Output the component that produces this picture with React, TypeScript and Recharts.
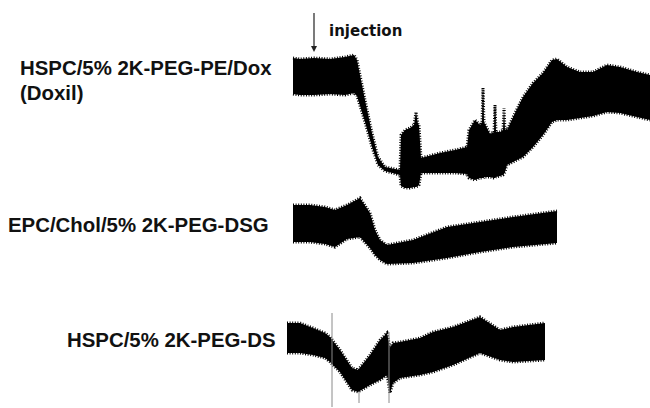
import { ComposedChart, Area, XAxis, YAxis, ReferenceLine } from 'recharts'

// time axis in minutes, pressures in mmHg (read from the tracings)
const doxilTime = [1.3, 2, 3.4, 5, 6.5, 7.4, 7.7, 8.5, 9.2, 9.8, 10.5, 12, 12.1, 12.5, 13, 13.4, 13.6, 13.8, 13.9, 14.1, 16, 17.5, 18.7, 18.9, 19.5, 20, 20.2, 20.3, 20.4, 21, 21.4, 21.5, 21.6, 22, 22.3, 22.4, 22.5, 22.7, 23.5, 24.3, 25.3, 26.3, 27.2, 27.7, 28.7, 30, 31.3, 32.7, 34, 35.7, 37]
const doxilSys = [142, 141, 142, 141, 143, 145, 140, 100, 67, 43, 33, 30, 65, 70, 72, 75, 88, 76, 75, 42, 47, 50, 53, 70, 80, 75, 78, 112, 78, 66, 68, 95, 68, 68, 70, 92, 70, 70, 87, 103, 117, 127, 140, 141, 133, 128, 128, 135, 133, 128, 125]
const doxilDia = [106, 105, 105, 106, 105, 107, 104, 78, 53, 35, 29, 25, 14, 12, 12, 13, 13, 14, 15, 27, 27, 27, 26, 22, 20, 22, 22, 22, 23, 23, 22, 22, 23, 24, 25, 26, 28, 35, 39, 43, 53, 65, 78, 80, 80, 82, 84, 88, 87, 83, 80]

const dsgTime = [1.3, 3, 4.5, 5.5, 6.7, 8, 9, 9.5, 10, 10.7, 13.3, 16.7, 20, 23.3, 27.7]
const dsgSys = [110, 110, 108, 105, 110, 117, 102, 85, 75, 70, 75, 88, 93, 98, 104]
const dsgDia = [73, 73, 71, 68, 76, 78, 67, 60, 55, 51, 52, 57, 63, 68, 72]

const dsTime = [0.7, 2, 3.3, 4.5, 5, 6, 7.2, 7.8, 9, 10, 10.7, 11, 11.3, 12, 14, 15.3, 17.3, 20, 22, 23.3, 26.5]
const dsSys = [105, 105, 100, 95, 91, 78, 60, 58, 73, 88, 95, 80, 85, 86, 90, 96, 101, 111, 98, 101, 105]
const dsDia = [75, 75, 73, 70, 66, 56, 38, 36, 43, 48, 53, 35, 45, 50, 53, 56, 63, 75, 68, 66, 68]

// thin artefact lines on the third tracing: time, top, bottom
const dsMarkTime = [5.2, 7.9, 10.9]
const dsMarkTop = [115, 36, 96]
const dsMarkBottom = [21, 25, 25]

const LABELS = ['HSPC/5% 2K-PEG-PE/Dox', '(Doxil)', 'EPC/Chol/5% 2K-PEG-DSG', 'HSPC/5% 2K-PEG-DS']

function rows(time: number[], sys: number[], dia: number[]) {
  return time.map((t, i) => ({ t, range: [dia[i], sys[i]] }))
}

const doxilData = rows(doxilTime, doxilSys, doxilDia)
const dsgData = rows(dsgTime, dsgSys, dsgDia)
const dsData = rows(dsTime, dsSys, dsDia)

const labelFont = { fontFamily: '"Liberation Sans", Arial, sans-serif', fontWeight: 700, fontSize: 20.4, fill: '#111' }

function Trace({ data, top, height, domain, children }: {
  data: { t: number; range: number[] }[]
  top: number
  height: number
  domain: [number, number]
  children?: React.ReactNode
}) {
  return (
    <div style={{ position: 'absolute', left: 280, top }}>
      <ComposedChart width={370} height={height} data={data} margin={{ top: 0, right: 0, bottom: 0, left: 0 }}>
        <XAxis dataKey="t" type="number" domain={[0, 37]} hide allowDataOverflow />
        <YAxis type="number" domain={domain} hide allowDataOverflow />
        {children}
        {/* fuzzy dashed outline mimics the pulse sawtooth on the edges */}
        <Area
          type="linear"
          dataKey="range"
          stroke="#000"
          strokeWidth={3}
          strokeDasharray="1 1.6"
          fill="#000"
          fillOpacity={1}
          dot={false}
          activeDot={false}
          isAnimationActive={false}
        />
      </ComposedChart>
    </div>
  )
}

export default function App() {
  return (
    <div style={{ position: 'absolute', left: 0, top: 0, width: 650, height: 408, background: '#fff', overflow: 'hidden' }}>
      <svg width={650} height={408} style={{ position: 'absolute', left: 0, top: 0 }}>
        <text x={20} y={75} {...labelFont}>{LABELS[0]}</text>
        <text x={20} y={100} {...labelFont}>{LABELS[1]}</text>
        <text x={8} y={232} {...labelFont}>{LABELS[2]}</text>
        <text x={67} y={347} {...labelFont}>{LABELS[3]}</text>
        <line x1={314} y1={13} x2={314} y2={47} stroke="#222" strokeWidth={1.2} />
        <polygon points="311,46 317,46 314,52" fill="#222" />
        <text x={329} y={36} fontFamily='"DejaVu Sans", Verdana, sans-serif' fontWeight={700} fontSize={15} fill="#111">injection</text>
      </svg>
      <Trace data={doxilData} top={40} height={160} domain={[0, 160]} />
      <Trace data={dsgData} top={195} height={80} domain={[40, 120]} />
      <Trace data={dsData} top={305} height={103} domain={[20, 123]}>
        {dsMarkTime.map((t, i) => (
          <ReferenceLine
            key={t}
            segment={[{ x: t, y: dsMarkTop[i] }, { x: t, y: dsMarkBottom[i] }]}
            stroke="#8a8a8a"
            strokeWidth={1}
            ifOverflow="visible"
          />
        ))}
      </Trace>
    </div>
  )
}
